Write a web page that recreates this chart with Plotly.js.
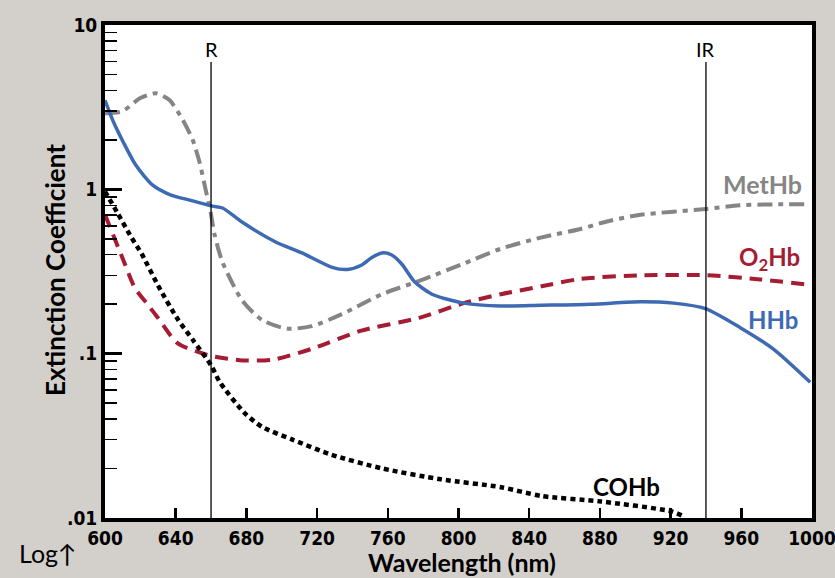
<!DOCTYPE html>
<html>
<head>
<meta charset="utf-8">
<script src="https://cdn.plot.ly/plotly-3.0.1.min.js"></script>
<style>
html,body{margin:0;padding:0;background:#d3cfcb;}
#chart{width:835px;height:578px;}
</style>
</head>
<body>
<div id="chart"></div>
<script>
// Wavelength (nm) and extinction coefficient readings
const hhbWl  = [600, 605, 610, 617.5, 627, 636.6, 647.9, 660.8, 666.5, 677.7, 696.3, 711.5, 728.5, 737, 745, 751, 756.6, 762, 768, 775, 785, 803, 824, 846.8, 875, 903, 921.7, 939.7, 959.4, 978, 999];
const hhbVal = [3.48, 2.54, 1.97, 1.40, 1.06, 0.93, 0.86, 0.79, 0.77, 0.63, 0.48, 0.41, 0.335, 0.325, 0.345, 0.385, 0.41, 0.40, 0.35, 0.275, 0.23, 0.203, 0.195, 0.197, 0.20, 0.207, 0.203, 0.188, 0.144, 0.107, 0.067];

const o2hbWl  = [600, 610, 617, 624, 630, 641, 660, 678, 695, 717, 745, 777.5, 803, 824, 847, 869, 903, 940, 970.7, 996];
const o2hbVal = [0.70, 0.38, 0.25, 0.20, 0.165, 0.116, 0.097, 0.091, 0.092, 0.107, 0.138, 0.165, 0.203, 0.23, 0.257, 0.285, 0.30, 0.30, 0.283, 0.264];

const methbWl  = [600, 610, 619.7, 628.7, 636.6, 644, 649.6, 653.5, 656.9, 659.7, 662, 666.5, 677.7, 689, 703, 717, 734, 756.6, 779, 802, 824, 847, 869, 884.5, 903, 940, 959, 978, 997];
const methbVal = [2.9, 2.99, 3.58, 3.84, 3.48, 2.64, 2.0, 1.46, 1.0, 0.73, 0.53, 0.36, 0.21, 0.16, 0.142, 0.147, 0.174, 0.23, 0.28, 0.35, 0.435, 0.51, 0.574, 0.64, 0.70, 0.76, 0.80, 0.81, 0.81];

const cohbWl  = [600, 607, 614, 621, 630, 641, 650, 660, 665, 679, 689, 706, 728, 757, 790, 824, 847, 880.6, 920, 927];
const cohbVal = [0.97, 0.72, 0.53, 0.40, 0.26, 0.163, 0.12, 0.085, 0.067, 0.0435, 0.0358, 0.030, 0.0243, 0.020, 0.0172, 0.0154, 0.0136, 0.0126, 0.011, 0.0103];

const xTicks = [600, 640, 680, 720, 760, 800, 840, 880, 920, 960, 1000];
const yTicks = [0.01, 0.1, 1, 10];
const yTickText = ['.01', '.1', '1', '10'];
const markerWl = [660, 940];
const markerText = ['R', 'IR'];

const blue = '#3d6ab2', red = '#a61c32', gray = '#858585';
const numFont = 'Liberation Sans Narrow, DejaVu Sans Condensed, Arial Narrow, sans-serif';
const txtFont = 'Lato, Open Sans, sans-serif';

const traces = [
  {x: methbWl, y: methbVal, mode: 'lines', line: {color: gray, width: 4, dash: '15px,6px,5px,6px', shape: 'spline', smoothing: 0.7}},
  {x: o2hbWl, y: o2hbVal, mode: 'lines', line: {color: red, width: 4, dash: '13px,8px', shape: 'spline', smoothing: 0.7}},
  {x: hhbWl, y: hhbVal, mode: 'lines', line: {color: blue, width: 3.5, shape: 'spline', smoothing: 0.7}},
  {x: cohbWl, y: cohbVal, mode: 'lines', line: {color: '#000', width: 4.5, dash: '5px,4px', shape: 'spline', smoothing: 0.7}}
];

const shapes = markerWl.map(w => ({type: 'line', xref: 'x', yref: 'paper', x0: w, x1: w, y0: 0, y1: 0.925, line: {color: '#000', width: 1.3}}));

const annotations = [
  {text: 'MetHb', x: 972, y: 0.03, font: {color: gray, size: 25, family: txtFont, weight: 'bold'}},
  {text: 'O<sub>2</sub>Hb', x: 976, y: -0.42, font: {color: red, size: 24, family: txtFont, weight: 'bold'}},
  {text: 'HHb', x: 978, y: -0.79, font: {color: blue, size: 24, family: txtFont, weight: 'bold'}},
  {text: 'COHb', x: 895, y: -1.81, font: {color: '#000', size: 24, family: txtFont, weight: 'bold'}}
].map(a => Object.assign({xref: 'x', yref: 'y', showarrow: false, xanchor: 'center', yanchor: 'middle'}, a));

markerWl.forEach((w, i) => annotations.push({text: markerText[i], x: w, y: 0.855, xref: 'x', yref: 'y', showarrow: false, font: {size: 20, family: txtFont, color: '#000'}}));
annotations.push({text: 'Log\u2191', xref: 'paper', yref: 'paper', x: -0.125, y: -0.07, xanchor: 'left', yanchor: 'middle', showarrow: false, font: {size: 25, family: txtFont, color: '#000'}});
annotations.push({text: 'Wavelength (nm)', xref: 'paper', yref: 'paper', x: 0.505, y: -0.09, xanchor: 'center', yanchor: 'middle', showarrow: false, font: {size: 25, family: txtFont, weight: 'bold', color: '#000'}});
annotations.push({text: 'Extinction Coefficient', xref: 'paper', yref: 'paper', x: -0.0707, y: 0.503, xanchor: 'center', yanchor: 'middle', textangle: -90, showarrow: false, font: {size: 26, family: txtFont, weight: 'bold', color: '#000'}});

const layout = {
  width: 835, height: 578,
  paper_bgcolor: '#d3cfcb', plot_bgcolor: '#ffffff',
  margin: {l: 105, r: 23, t: 25, b: 60},
  showlegend: false,
  hovermode: false,
  xaxis: {
    range: [600, 1000], tickvals: xTicks, ticks: 'inside', ticklen: 10, tickwidth: 2.5, tickcolor: '#000',
    ticklabeloverflow: 'allow',
    showline: true, linewidth: 4, linecolor: '#000', mirror: true, showgrid: false, zeroline: false,
    tickfont: {family: numFont, size: 19, weight: 'bold', color: '#000'}
  },
  yaxis: {
    type: 'log', range: [-2, 1], tickvals: yTicks, ticktext: yTickText, ticks: 'inside', ticklen: 17, tickwidth: 3, tickcolor: '#000',
    minor: {ticks: 'inside', ticklen: 12, tickwidth: 1.5, tickcolor: '#000', dtick: 'D1', showgrid: false},
    showline: true, linewidth: 4, linecolor: '#000', mirror: true, showgrid: false, zeroline: false,
    tickfont: {family: numFont, size: 19, weight: 'bold', color: '#000'}
  },
  shapes: shapes,
  annotations: annotations
};

Plotly.newPlot('chart', traces, layout, {displayModeBar: false, staticPlot: true});
</script>
</body>
</html>
